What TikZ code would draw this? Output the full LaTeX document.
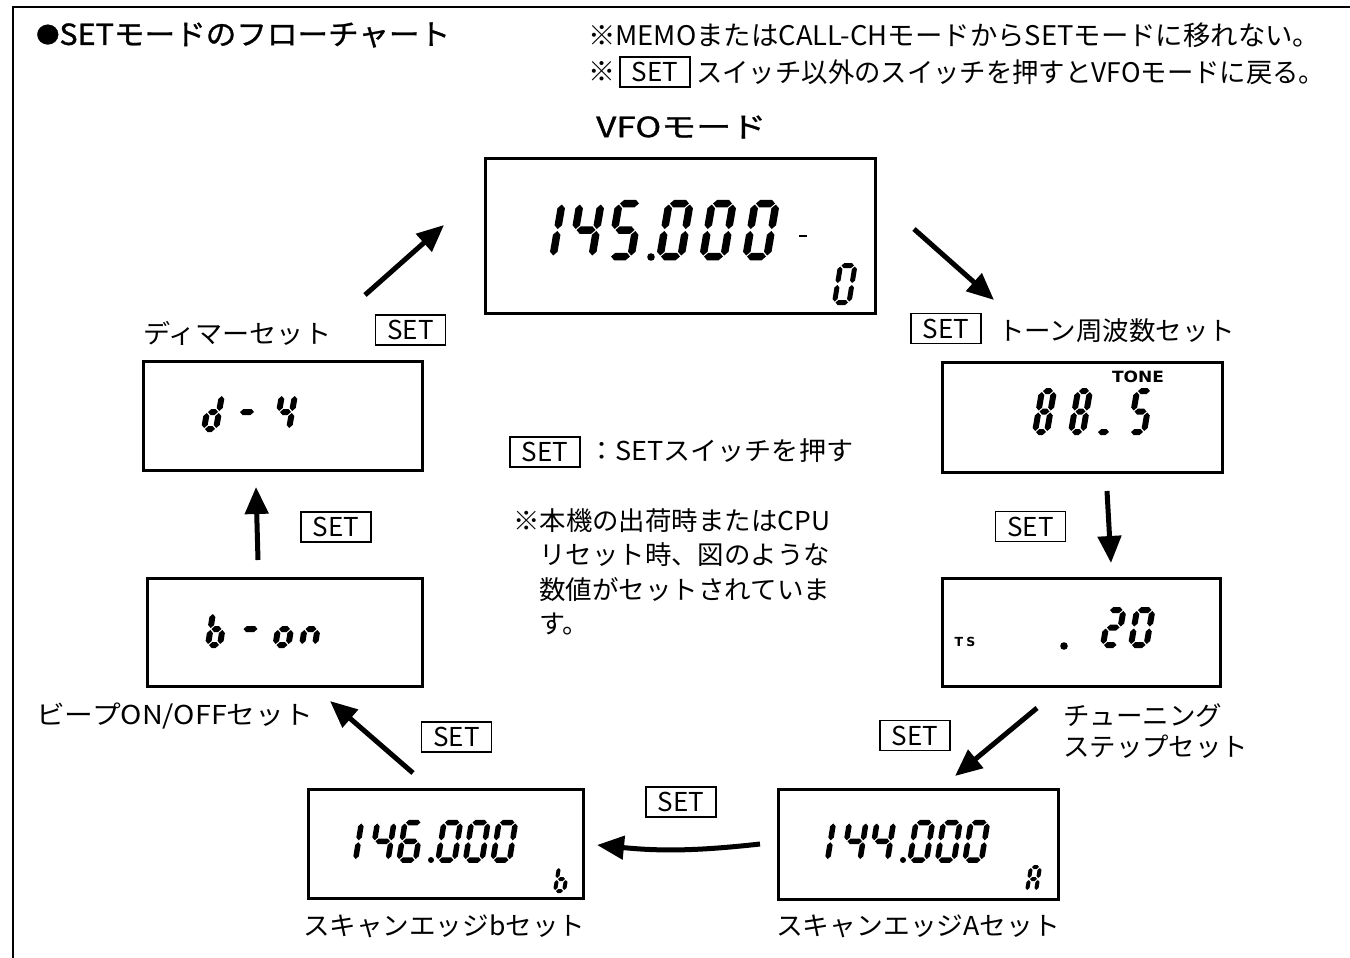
\documentclass[tikz,border=0pt]{standalone}
\usepackage{fontspec}
\usepackage{graphicx}
\setmainfont{Noto Sans CJK JP}
\newfontfamily\jp{Noto Sans CJK JP}
\newfontfamily\jpb[FakeBold=1]{Noto Sans CJK JP}
\newfontfamily\dvs{DejaVu Sans}
\usetikzlibrary{arrows.meta}
\newcommand\fw[2]{\resizebox{#1pt}{\height}{#2}}
% seven segment helpers
\newcommand\hseg[1]{\fill (\sgDU,#1) -- ({\sgDU+\sgTU},{#1+\sgTV}) -- ({1-\sgDU-\sgTU},{#1+\sgTV}) -- ({1-\sgDU},#1) -- ({1-\sgDU-\sgTU},{#1-\sgTV}) -- ({\sgDU+\sgTU},{#1-\sgTV}) -- cycle;}
\newcommand\vseg[3]{\fill (#1,{#2+\sgDV}) -- ({#1+\sgTU},{#2+\sgDV+\sgTV}) -- ({#1+\sgTU},{#3-\sgDV-\sgTV}) -- (#1,{#3-\sgDV}) -- ({#1-\sgTU},{#3-\sgDV-\sgTV}) -- ({#1-\sgTU},{#2+\sgDV+\sgTV}) -- cycle;}
\def\sgpa{\hseg{1}}
\def\sgpb{\vseg{1}{0.5}{1}}
\def\sgpc{\vseg{1}{0}{0.5}}
\def\sgpd{\hseg{0}}
\def\sgpe{\vseg{0}{0}{0.5}}
\def\sgpf{\vseg{0}{0.5}{1}}
\def\sgpg{\hseg{0.5}}
% #1 X, #2 Y (bottom-left), #3 W, #4 H, #5 slant, #6 thickness, #7 segments
\newcommand\sseg[7]{%
  \begin{scope}[shift={(#1,#2)},x={(#3pt,0pt)},y={(#5pt,#4pt)}]
    \pgfmathsetmacro\sgTU{#6/2/#3}%
    \pgfmathsetmacro\sgTV{#6/2/#4}%
    \pgfmathsetmacro\sgDU{1.0/#3}%
    \pgfmathsetmacro\sgDV{1.0/#4}%
    \foreach \sgS in {#7}{\csname sgp\sgS\endcsname}%
  \end{scope}}
\begin{document}
\begin{tikzpicture}[x=1pt,y=-1pt,
  txt/.style={inner sep=0pt, anchor=west, font=\jp\fontsize{26}{30}\selectfont},
  setbox/.style={draw, line width=1.3pt, minimum width=70pt, minimum height=30pt, inner sep=0pt, font=\jp\fontsize{26}{30}\selectfont},
  lcdbox/.style={draw, line width=3pt, inner sep=0pt},
  flow/.style={line width=5pt, -{Triangle[length=27pt,width=23pt]}},
  frameline/.style={line width=1.5pt}]
\useasboundingbox (0,0) rectangle (1350,958);
\fill[white] (0,0) rectangle (1350,958);
\draw[frameline] (13,958) -- (13,7) -- (1350,7);

% headings and notes
\node[txt, font=\jpb\fontsize{29}{30}\selectfont] (title) at (36,35) {\fw{414}{\raisebox{2pt}{\fontsize{22}{24}\selectfont ●}SETモードのフローチャート}};
\node[txt, font=\jp\fontsize{27}{30}\selectfont] (note1) at (588,35) {\fw{732}{※MEMOまたはCALL-CHモードからSETモードに移れない。}};
\node[txt, font=\jp\fontsize{27}{30}\selectfont] (note2a) at (588,72) {※};
\node[setbox] (set0) at (655,72) {SET};
\node[txt, font=\jp\fontsize{27}{30}\selectfont] (note2b) at (696,72) {\fw{629}{スイッチ以外のスイッチを押すとVFOモードに戻る。}};
\node[txt, font=\jpb\fontsize{28}{30}\selectfont] (vfolbl) at (596,127) {\fw{170}{VFOモード}};

% LCD displays
\node[lcdbox, minimum width=390pt, minimum height=155pt] (vfo) at (680.5,236) {};
\node[lcdbox, minimum width=280pt, minimum height=110pt] (tone) at (1082.5,417.5) {};
\node[lcdbox, minimum width=278pt, minimum height=108pt] (ts) at (1081.5,632.5) {};
\node[lcdbox, minimum width=280pt, minimum height=110pt] (sca) at (918.5,844.5) {};
\node[lcdbox, minimum width=275pt, minimum height=109pt] (scb) at (446,844) {};
\node[lcdbox, minimum width=275pt, minimum height=108pt] (beep) at (285,632.5) {};
\node[lcdbox, minimum width=279pt, minimum height=109pt] (dim) at (283,416) {};

% VFO 145.000 0
\sseg{532}{256.5}{21}{53}{9}{7.5}{b,c}
\sseg{571}{256.5}{21}{53}{9}{7.5}{b,c,f,g}
\sseg{610}{256.5}{21}{53}{9}{7.5}{a,c,d,f,g}
\fill (651,257) circle (3.8pt);
\sseg{660}{256.5}{21}{53}{9}{7.5}{a,b,c,d,e,f}
\sseg{703}{256.5}{21}{53}{9}{7.5}{a,b,c,d,e,f}
\sseg{746}{256.5}{21}{53}{9}{7.5}{a,b,c,d,e,f}
\draw[line width=2pt] (799,236) -- (807,236);
\sseg{834.5}{302.5}{14.5}{37}{6}{5}{a,b,c,d,e,f}

% TONE 88_5
\node[inner sep=0pt, font=\dvs\bfseries\fontsize{15.5}{17}\selectfont] (tonetag) at (1138,377) {\fw{52}{TONE}};
\sseg{1035}{432}{12}{41}{7}{6}{a,b,c,d,e,f,g}
\sseg{1071}{432}{12}{41}{7}{6}{a,b,c,d,e,f,g}
\sseg{1097}{432}{13}{41}{7}{6}{d}
\sseg{1130}{432}{14}{41}{7}{6}{a,c,d,f,g}

% TS .20
\node[inner sep=0pt, font=\dvs\bfseries\fontsize{12.5}{14}\selectfont] (tstag) at (965,642) {T\kern3pt S};
\fill (1064,646) circle (3.8pt);
\sseg{1103}{645}{14.5}{35}{6}{6}{a,b,d,e,g}
\sseg{1131}{645}{15.5}{35}{6}{6}{a,b,c,d,e,f}

% 144.000 A
\sseg{811}{860}{16.5}{37.5}{6}{5.5}{b,c}
\sseg{843.5}{860}{16.5}{37.5}{6}{5.5}{b,c,f,g}
\sseg{871}{860}{16.5}{37.5}{6}{5.5}{b,c,f,g}
\fill (903,860) circle (3pt);
\sseg{910}{860}{16.5}{37.5}{6}{5.5}{a,b,c,d,e,f}
\sseg{937.5}{860}{16.5}{37.5}{6}{5.5}{a,b,c,d,e,f}
\sseg{965}{860}{16.5}{37.5}{6}{5.5}{a,b,c,d,e,f}
\sseg{1027}{891}{9}{24}{4}{4}{a,b,c,e,f,g}

% 146.000 b
\sseg{339}{860}{16.5}{37.5}{6}{5.5}{b,c}
\sseg{371.5}{860}{16.5}{37.5}{6}{5.5}{b,c,f,g}
\sseg{399}{860}{16.5}{37.5}{6}{5.5}{a,c,d,e,f,g}
\fill (431,860) circle (3pt);
\sseg{438}{860}{16.5}{37.5}{6}{5.5}{a,b,c,d,e,f}
\sseg{465.5}{860}{16.5}{37.5}{6}{5.5}{a,b,c,d,e,f}
\sseg{493}{860}{16.5}{37.5}{6}{5.5}{a,b,c,d,e,f}
\sseg{555}{891}{9}{24}{4}{4}{c,d,e,f,g}

% b-on
\sseg{208}{645}{12}{32}{5}{6}{c,d,e,f,g}
\sseg{240}{645}{16}{32}{5}{6}{g}
\sseg{275.5}{645}{13}{32}{5}{6}{c,d,e,g}
\sseg{302}{645}{13}{32}{5}{6}{c,e,g}

% d-4
\sseg{204}{429}{12}{34}{6}{6}{b,c,d,e,g}
\sseg{236}{429}{16}{34}{6}{6}{g}
\sseg{276}{429}{13}{34}{6}{6}{b,c,f,g}

% labels
\node[txt] (tonelab) at (998,331) {\fw{237}{トーン周波数セット}};
\node[setbox] (set2) at (946,328.5) {SET};
\node[txt] (dimlab) at (143,333) {\fw{188}{ディマーセット}};
\node[setbox] (set1) at (410.5,330) {SET};
\node[setbox] (set3) at (1030.5,526.5) {SET};
\node[txt] (tslab1) at (1063,715) {\fw{159}{チューニング}};
\node[txt] (tslab2) at (1063,747) {\fw{185}{ステップセット}};
\node[setbox] (set4) at (915,735.5) {SET};
\node[setbox] (set5) at (681,802) {SET};
\node[txt] (salab) at (776,926) {\fw{284}{スキャンエッジAセット}};
\node[txt] (sblab) at (303,926) {\fw{282}{スキャンエッジbセット}};
\node[setbox] (set6) at (456.5,737) {SET};
\node[txt] (beeplab) at (36,716) {\fw{277}{ビープON/OFFセット}};
\node[setbox] (set7) at (336,527) {SET};

% legend and note
\node[setbox] (setlg) at (545,452) {SET};
\node[txt] (legend) at (588,451) {\fw{265}{：SETスイッチを押す}};
\node[txt] (memo1) at (513,521) {\fw{317}{※本機の出荷時またはCPU}};
\node[txt] (memo2) at (539,555) {\fw{291}{リセット時、図のような}};
\node[txt] (memo3) at (539,590) {\fw{291}{数値がセットされていま}};
\node[txt] (memo4) at (539,624) {す。};

% arrows
\coordinate (a1s) at (365,295); \coordinate (a1e) at (444,225);
\coordinate (a2s) at (914,229); \coordinate (a2e) at (994,300);
\coordinate (a3s) at (1107,491); \coordinate (a3e) at (1111,563);
\coordinate (a4s) at (1037,708); \coordinate (a4e) at (955,776);
\coordinate (a5s) at (760,844); \coordinate (a5e) at (597,845);
\coordinate (a6s) at (413,773); \coordinate (a6e) at (330,701);
\coordinate (a7s) at (258,560); \coordinate (a7e) at (256,487);
\draw[flow] (a1s) -- (a1e);
\draw[flow] (a2s) -- (a2e);
\draw[flow] (a3s) -- (a3e);
\draw[flow] (a4s) -- (a4e);
\draw[flow] (a5s) to[bend left=6] (a5e);
\draw[flow] (a6s) -- (a6e);
\draw[flow] (a7s) -- (a7e);
\end{tikzpicture}
\end{document}
